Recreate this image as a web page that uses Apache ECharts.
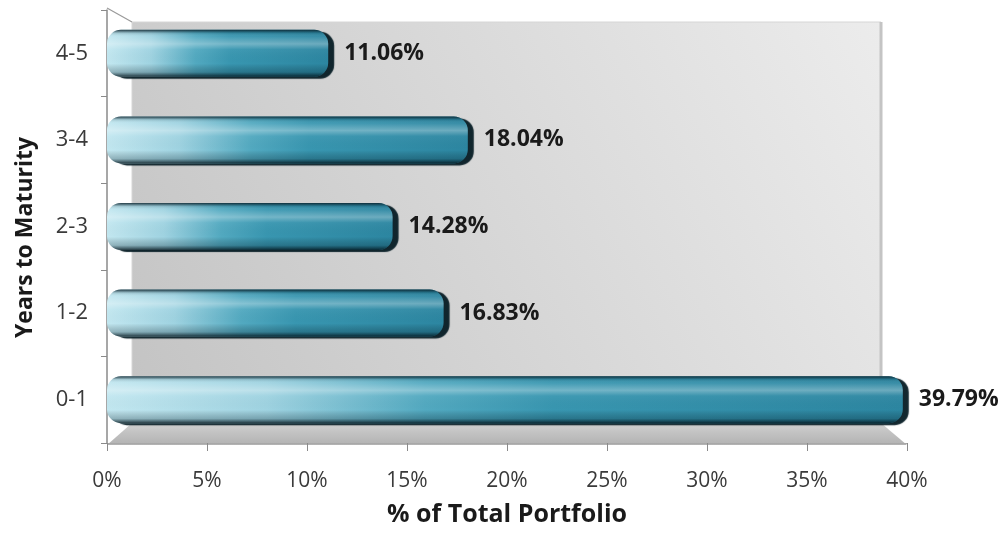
<!DOCTYPE html>
<html>
<head>
<meta charset="utf-8">
<script src="https://cdn.jsdelivr.net/npm/echarts@6/dist/echarts.min.js"></script>
<style>
  html, body { margin: 0; padding: 0; background: #ffffff; }
  #chart { width: 1005px; height: 535px; }
</style>
</head>
<body>
<div id="chart"></div>
<script>
// Maturity buckets (bottom to top) and their share of the portfolio, in %
const categories = ['0-1', '1-2', '2-3', '3-4', '4-5'];
const portfolioShare = [39.79, 16.83, 14.28, 18.04, 11.06];

// Value axis range and step
const X_MIN = 0;
const X_MAX = 40;
const X_STEP = 5;

const X_TITLE = '% of Total Portfolio';
const Y_TITLE = 'Years to Maturity';

const FONT = '"Open Sans", "DejaVu Sans", sans-serif';
const GRID = { left: 107, right: 98, top: 10, bottom: 92 };

const chart = echarts.init(document.getElementById('chart'), null, { renderer: 'canvas' });

// Teal tube: light on the left, deepening to teal toward the end
const tubeFill = new echarts.graphic.LinearGradient(0, 0, 1, 0, [
  { offset: 0, color: '#c2e7f0' },
  { offset: 0.2, color: '#9fd3e1' },
  { offset: 0.4, color: '#52a9c0' },
  { offset: 0.56, color: '#3896b0' },
  { offset: 1, color: '#2c86a1' }
]);

// Rounded shading across the tube: dark rims, soft highlight near the top
const tubeShade = new echarts.graphic.LinearGradient(0, 0, 0, 1, [
  { offset: 0, color: 'rgba(8,30,40,0.85)' },
  { offset: 0.07, color: 'rgba(8,30,40,0.15)' },
  { offset: 0.14, color: 'rgba(255,255,255,0.05)' },
  { offset: 0.3, color: 'rgba(255,255,255,0.3)' },
  { offset: 0.42, color: 'rgba(255,255,255,0.04)' },
  { offset: 0.72, color: 'rgba(0,0,0,0)' },
  { offset: 0.9, color: 'rgba(0,25,35,0.25)' },
  { offset: 1, color: 'rgba(0,15,22,0.8)' }
]);

chart.setOption({
  animation: false,
  backgroundColor: '#ffffff',
  grid: { left: GRID.left, right: GRID.right, top: GRID.top, bottom: GRID.bottom, containLabel: false },
  xAxis: {
    type: 'value',
    min: X_MIN,
    max: X_MAX,
    interval: X_STEP,
    name: X_TITLE,
    nameLocation: 'middle',
    nameGap: 59,
    nameTextStyle: { fontFamily: FONT, fontWeight: 'bold', fontSize: 25, color: '#1a1a1a' },
    axisLine: { show: true, lineStyle: { color: '#a8a8a8', width: 1 } },
    axisTick: { show: true, length: 8, lineStyle: { color: '#8a8a8a' } },
    splitLine: { show: false },
    axisLabel: {
      formatter: '{value}%',
      margin: 28,
      fontFamily: FONT,
      fontSize: 21,
      color: '#3a3a3a'
    }
  },
  yAxis: {
    type: 'category',
    data: categories,
    name: Y_TITLE,
    nameLocation: 'middle',
    nameGap: 70,
    nameTextStyle: {
      fontFamily: FONT, fontWeight: 'bold', fontSize: 23, color: '#1a1a1a',
      padding: [0, 22, 0, 0]
    },
    axisLine: { show: true, lineStyle: { color: '#8a8a8a', width: 1.5 } },
    axisTick: { show: true, length: 6, alignWithLabel: false, lineStyle: { color: '#8a8a8a' } },
    axisLabel: { margin: 19, fontFamily: FONT, fontSize: 22, color: '#3a3a3a' }
  },
  series: [
    {
      name: 'tube',
      type: 'bar',
      data: portfolioShare,
      barWidth: 47,
      z: 3,
      silent: true,
      itemStyle: {
        color: tubeFill,
        borderRadius: 14,
        shadowColor: 'rgba(6,28,36,0.95)',
        shadowBlur: 1,
        shadowOffsetX: 6,
        shadowOffsetY: 2
      }
    },
    {
      name: 'shade',
      type: 'bar',
      data: portfolioShare,
      barWidth: 47,
      barGap: '-100%',
      z: 4,
      silent: true,
      itemStyle: { color: tubeShade, borderRadius: 14 },
      label: {
        show: true,
        position: 'right',
        distance: 16,
        formatter: p => p.value.toFixed(2) + '%',
        fontFamily: FONT,
        fontWeight: 'bold',
        fontSize: 23,
        color: '#1a1a1a'
      }
    }
  ]
});

// Back wall, floor and the receding edge, placed from the axis scale
function drawRoom() {
  const x0 = chart.convertToPixel({ xAxisIndex: 0 }, X_MIN);
  const x1 = chart.convertToPixel({ xAxisIndex: 0 }, X_MAX);
  const yTop = GRID.top;
  const yBot = chart.getHeight() - GRID.bottom;
  const backL = x0 + 25, backR = x1 - 26, backT = yTop + 12, backB = yBot - 20;

  chart.setOption({
    graphic: [
      {
        type: 'rect', z: 0, silent: true,
        shape: { x: backL, y: backT, width: backR - backL, height: backB - backT },
        style: {
          fill: new echarts.graphic.LinearGradient(0, 1, 1, 0, [
            { offset: 0, color: '#c3c3c3' },
            { offset: 1, color: '#ececec' }
          ]),
          stroke: '#d6d6d6', lineWidth: 1
        }
      },
      {
        type: 'line', z: 0, silent: true,
        shape: { x1: backR, y1: backT, x2: backR, y2: backB },
        style: { stroke: '#c4c4c4', lineWidth: 3 }
      },
      {
        type: 'polygon', z: 0, silent: true,
        shape: { points: [[backL, backB], [backR, backB], [x1, yBot + 2], [x0, yBot + 2]] },
        style: {
          fill: new echarts.graphic.LinearGradient(0, 0, 0, 1, [
            { offset: 0, color: '#d2d2d2' },
            { offset: 0.45, color: '#c2c2c2' },
            { offset: 1, color: '#b2b2b2' }
          ])
        }
      },
      {
        type: 'line', z: 1, silent: true,
        shape: { x1: x0, y1: yTop - 2, x2: backL, y2: backT },
        style: { stroke: '#9a9a9a', lineWidth: 1.2 }
      }
    ]
  });
}
drawRoom();
</script>
</body>
</html>
